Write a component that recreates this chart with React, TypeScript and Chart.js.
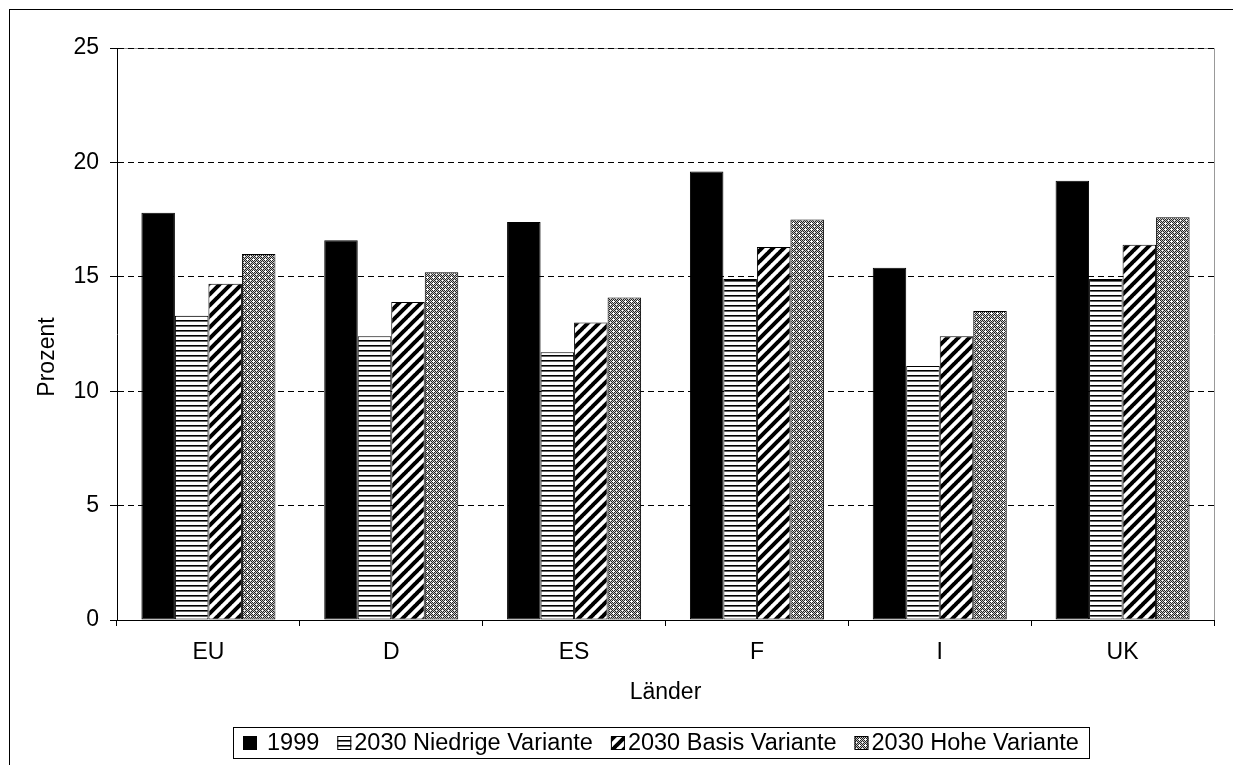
import React, { useEffect, useRef } from "react";
import { Chart, registerables } from "chart.js";

Chart.register(...registerables);

const categories = ["EU", "D", "ES", "F", "I", "UK"];
const seriesNames = ["1999", "2030 Niedrige Variante", "2030 Basis Variante", "2030 Hohe Variante"];
const values1999 = [17.8, 16.6, 17.4, 19.6, 15.4, 19.2];
const valuesLow = [13.3, 12.4, 11.7, 14.9, 11.1, 14.9];
const valuesBasis = [14.7, 13.9, 13.0, 16.3, 12.4, 16.4];
const valuesHigh = [16.0, 15.2, 14.1, 17.5, 13.5, 17.6];
const yTicks = [0, 5, 10, 15, 20, 25];
const xTitle = "Länder";
const yTitle = "Prozent";

const FONT = '"Liberation Sans", Arial, sans-serif';
const FS = 23;

function makeTile(w: number, h: number, draw: (c: CanvasRenderingContext2D) => void) {
  const cv = document.createElement("canvas");
  cv.width = w;
  cv.height = h;
  const c = cv.getContext("2d")!;
  draw(c);
  return cv;
}

function makePatterns(ctx: CanvasRenderingContext2D) {
  const horiz = makeTile(8, 5, (c) => {
    c.fillStyle = "#fff";
    c.fillRect(0, 0, 8, 5);
    c.fillStyle = "#000";
    c.fillRect(0, 0, 8, 1);
    c.fillStyle = "#666";
    c.fillRect(0, 1, 8, 1);
  });
  const diag = makeTile(11, 11, (c) => {
    c.fillStyle = "#fff";
    c.fillRect(0, 0, 11, 11);
    c.strokeStyle = "#000";
    c.lineWidth = 4;
    c.beginPath();
    for (let k = -1; k <= 1; k++) {
      c.moveTo(k * 11 - 1, 12);
      c.lineTo(k * 11 + 12, -1);
    }
    c.stroke();
  });
  const dots = makeTile(6, 6, (c) => {
    c.fillStyle = "#c8c8c8";
    c.fillRect(0, 0, 6, 6);
    c.fillStyle = "#222";
    for (let x = 0; x < 6; x++)
      for (let y = 0; y < 6; y++) if ((x + y) % 2 === 0) c.fillRect(x, y, 1, 1);
    c.fillStyle = "#fff";
    [[3, 3], [2, 3], [4, 3], [3, 2], [3, 4], [0, 0]].forEach(([x, y]) => c.fillRect(x, y, 1, 1));
  });
  return [
    "#000",
    ctx.createPattern(horiz, "repeat")!,
    ctx.createPattern(diag, "repeat")!,
    ctx.createPattern(dots, "repeat")!,
  ];
}

export default function App() {
  const ref = useRef<HTMLCanvasElement>(null);
  useEffect(() => {
    const canvas = ref.current!;
    const ctx = canvas.getContext("2d")!;
    const fills = makePatterns(ctx);

    const plotFrame = {
      id: "plotFrame",
      beforeDraw(chart: any) {
        const { ctx, chartArea } = chart;
        ctx.save();
        ctx.fillStyle = "#fff";
        ctx.fillRect(0, 0, chart.width, chart.height);
        ctx.strokeStyle = "#999";
        ctx.lineWidth = 1;
        ctx.beginPath();
        ctx.moveTo(chartArea.left, chartArea.top + 0.5);
        ctx.lineTo(chartArea.right + 0.5, chartArea.top + 0.5);
        ctx.lineTo(chartArea.right + 0.5, chartArea.bottom);
        ctx.stroke();
        ctx.restore();
      },
      afterDraw(chart: any) {
        const c = chart.ctx;
        c.save();
        c.font = `${FS}px ${FONT}`;
        c.fillStyle = "#000";
        c.textAlign = "center";
        c.textBaseline = "middle";
        c.translate(38, 347);
        c.rotate(-Math.PI / 2);
        c.fillText(yTitle, 0, 0);
        c.restore();
      },
    };

    const legendBox = {
      id: "legendBox",
      afterDraw(chart: any) {
        const c = chart.ctx;
        c.save();
        const lfs = 23.5;
        c.font = `${lfs}px ${FONT}`;
        const pad = 10, box = 14, itemGap = 18;
        const items = seriesNames.map((t, i) => ({
          t,
          w: c.measureText(t).width,
          gap: i === 0 ? 10 : 3,
          fill: fills[i],
        }));
        let total = pad * 2 + itemGap * (items.length - 1);
        items.forEach((it) => (total += box + it.gap + it.w));
        total = Math.round(total);
        const cx = 651;
        const left = Math.round(cx - total / 2);
        const top = 717, h = 31;
        c.fillStyle = "#fff";
        c.fillRect(left, top, total, h);
        c.strokeStyle = "#000";
        c.lineWidth = 1;
        c.strokeRect(left + 0.5, top + 0.5, total, h);
        let x = left + pad;
        items.forEach((it) => {
          const by = top + Math.round((h - box) / 2);
          c.fillStyle = it.fill as any;
          c.fillRect(x, by, box, box);
          c.strokeStyle = "#000";
          c.strokeRect(x + 0.5, by + 0.5, box - 1, box - 1);
          x += box + it.gap;
          c.fillStyle = "#000";
          c.textBaseline = "middle";
          c.textAlign = "left";
          c.fillText(it.t, x, top + h / 2 + 1);
          x += it.w + itemGap;
        });
        c.restore();
      },
    };

    const dataSeries = [values1999, valuesLow, valuesBasis, valuesHigh];

    const chart = new Chart(canvas, {
      type: "bar",
      data: {
        labels: categories,
        datasets: dataSeries.map((d, i) => ({
          label: seriesNames[i],
          data: d,
          backgroundColor: fills[i] as any,
          borderColor: "#000",
          borderWidth: 1,
          borderSkipped: false,
          categoryPercentage: 0.733,
          barPercentage: 1,
        })),
      },
      options: {
        responsive: false,
        animation: false,
        devicePixelRatio: 1,
        layout: { padding: { left: 0, right: 19, top: 38, bottom: 50 } },
        font: { family: FONT, size: FS },
        plugins: {
          legend: { display: false },
          tooltip: { enabled: false },
        },
        scales: {
          x: {
            offset: true,
            afterFit: (s: any) => {
              s.height = 95;
            },
            grid: {
              display: true,
              drawOnChartArea: false,
              drawTicks: true,
              tickLength: 6,
              offset: true,
              color: "#000",
              tickColor: "#000",
            },
            border: { display: true, color: "#000", width: 1 },
            ticks: {
              color: "#000",
              font: { family: FONT, size: FS },
              padding: 13,
              maxRotation: 0,
            },
            title: {
              display: true,
              text: xTitle,
              color: "#000",
              font: { family: FONT, size: FS },
              padding: { top: 0, bottom: 9 },
            },
          },
          y: {
            min: 0,
            max: 25,
            afterFit: (s: any) => {
              s.width = 107;
            },
            afterBuildTicks: (s: any) => {
              s.ticks = yTicks.map((v) => ({ value: v }));
            },
            grid: {
              color: "#000",
              lineWidth: 1,
              tickLength: 7,
              tickColor: "#000",
              tickBorderDash: [],
            } as any,
            border: { display: true, color: "#000", width: 1, dash: [6, 4] } as any,
            ticks: {
              color: "#000",
              font: { family: FONT, size: FS },
              padding: 11,
            },
            title: { display: false },
          },
        },
      },
      plugins: [plotFrame, legendBox],
    });
    return () => chart.destroy();
  }, []);

  return (
    <div
      style={{
        position: "fixed",
        left: 9,
        top: 9,
        width: 1224,
        height: 756,
        borderTop: "1px solid #000",
        borderLeft: "1px solid #000",
        boxSizing: "border-box",
        background: "#fff",
      }}
    >
      <canvas ref={ref} width={1223} height={755} style={{ display: "block" }} />
    </div>
  );
}
